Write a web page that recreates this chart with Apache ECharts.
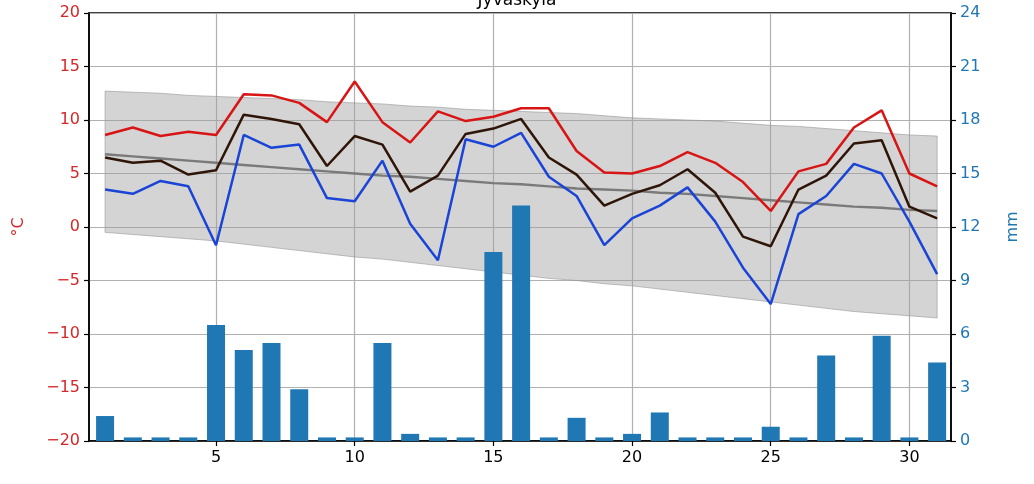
<!DOCTYPE html>
<html>
<head>
<meta charset="utf-8">
<script src="https://cdn.jsdelivr.net/npm/echarts@6/dist/echarts.min.js"></script>
<style>html,body{margin:0;padding:0;background:#fff}#c{width:1034px;height:484px}</style>
</head>
<body>
<div id="c"></div>
<script>
const titleText = 'Jyväskylä';
const days = [1,2,3,4,5,6,7,8,9,10,11,12,13,14,15,16,17,18,19,20,21,22,23,24,25,26,27,28,29,30,31];
const tMax = [8.6,9.3,8.5,8.9,8.6,12.4,12.3,11.6,9.8,13.6,9.8,7.9,10.8,9.9,10.3,11.1,11.1,7.1,5.1,5.0,5.7,7.0,6.0,4.2,1.5,5.2,5.9,9.3,10.9,5.0,3.8];
const tMean = [6.5,6.0,6.2,4.9,5.3,10.5,10.1,9.6,5.7,8.5,7.7,3.3,4.8,8.7,9.2,10.1,6.5,4.9,2.0,3.1,3.9,5.4,3.2,-0.9,-1.8,3.5,4.8,7.8,8.1,1.9,0.8];
const tMin = [3.5,3.1,4.3,3.8,-1.7,8.6,7.4,7.7,2.7,2.4,6.2,0.3,-3.1,8.2,7.5,8.8,4.7,2.9,-1.7,0.8,2.0,3.7,0.5,-3.8,-7.2,1.2,2.9,5.9,5.0,0.5,-4.4];
const climMean = [6.8,6.6,6.4,6.2,6.0,5.8,5.6,5.4,5.2,5.0,4.8,4.7,4.5,4.3,4.1,4.0,3.8,3.6,3.5,3.4,3.2,3.1,2.9,2.7,2.5,2.3,2.1,1.9,1.8,1.6,1.5];
const climUpper = [12.7,12.6,12.5,12.3,12.2,12.1,12.0,11.9,11.7,11.6,11.5,11.3,11.2,11.0,10.9,10.8,10.7,10.6,10.4,10.2,10.1,10.0,9.9,9.7,9.5,9.4,9.2,9.0,8.8,8.6,8.5];
const climLower = [-0.5,-0.7,-0.9,-1.1,-1.3,-1.6,-1.9,-2.2,-2.5,-2.8,-3.0,-3.3,-3.6,-3.9,-4.2,-4.5,-4.8,-5.0,-5.3,-5.5,-5.8,-6.1,-6.4,-6.7,-7.0,-7.3,-7.6,-7.9,-8.1,-8.3,-8.5];
const precip = [1.4,0.2,0.2,0.2,6.5,5.1,5.5,2.9,0.2,0.2,5.5,0.4,0.2,0.2,10.6,13.2,0.2,1.3,0.2,0.4,1.6,0.2,0.2,0.2,0.8,0.2,4.8,0.2,5.9,0.2,4.4];
const xTicks = [5,10,15,20,25,30];

const pairs = arr => days.map((d,i)=>[d, arr[i]]);
const FONT = 'DejaVu Sans';

const chart = echarts.init(document.getElementById('c'), null, {renderer:'canvas'});
chart.setOption({
  animation: false,
  backgroundColor: '#fff',
  title: {text: titleText, left: 'center', top: -13, textStyle:{fontFamily: FONT, fontSize: 17, fontWeight: 'normal', color:'#000'}},
  grid: {left: 89, right: 83, top: 13, bottom: 43, show: true, borderColor: '#000', borderWidth: 1.5, backgroundColor: 'transparent'},
  xAxis: {
    type: 'value', min: 0.42, max: 31.5,
    axisLine: {show: true, onZero: false, lineStyle: {color: '#000', width: 1.5}},
    axisTick: {show: true, length: 5, lineStyle:{color:'#000', width:1.2}, customValues: xTicks},
    axisLabel: {customValues: xTicks, color:'#000', fontFamily: FONT, fontSize: 16, margin: 9},
    splitLine: {show: false}
  },
  yAxis: [
    {
      type: 'value', min: -20, max: 20, interval: 5, position: 'left',
      name: '°C', nameLocation: 'middle', nameRotate: 90, nameGap: 62,
      nameTextStyle: {color: '#d62728', fontFamily: FONT, fontSize: 16},
      axisLine: {show: true, onZero: false, lineStyle: {color: '#000', width: 1.5}},
      axisTick: {show: true, length: 5, lineStyle:{color:'#000', width:1.2}},
      axisLabel: {color: '#d62728', fontFamily: FONT, fontSize: 16, margin: 9, formatter: v => (v<0? '\u2212'+Math.abs(v) : ''+v)},
      splitLine: {show: true, lineStyle: {color: '#b0b0b0', width: 1.2}}
    },
    {
      type: 'value', min: 0, max: 24, interval: 3, position: 'right',
      name: 'mm', nameLocation: 'middle', nameRotate: 90, nameGap: 54,
      nameTextStyle: {color: '#1f77b4', fontFamily: FONT, fontSize: 16},
      axisLine: {show: true, onZero: false, lineStyle: {color: '#000', width: 1.5}},
      axisTick: {show: true, length: 5, lineStyle:{color:'#000', width:1.2}},
      axisLabel: {color: '#1f77b4', fontFamily: FONT, fontSize: 16, margin: 9},
      splitLine: {show: false}
    }
  ],
  series: [
    {
      type: 'custom', name: 'climBand', silent: true, z: 1,
      data: days.map((d,i)=>[d, climLower[i], climUpper[i]]),
      encode: {x: 0, y: [1,2]},
      renderItem: function(params, api) {
        if (params.dataIndex !== 0) return null;
        const top = days.map((d,i)=>api.coord([d, climUpper[i]]));
        const bot = days.map((d,i)=>api.coord([d, climLower[i]])).reverse();
        return {
          type: 'polygon',
          shape: {points: top.concat(bot)},
          style: {fill: 'rgba(160,160,160,0.45)', stroke: 'rgba(150,150,150,0.6)', lineWidth: 1}
        };
      }
    },
    {
      type: 'bar', name: 'precip', yAxisIndex: 1, data: pairs(precip), barWidth: 18, z: 3,
      itemStyle: {color: '#1f77b4'},
      markLine: {
        silent: true, symbol: 'none', label: {show: false}, z: 0,
        lineStyle: {color: '#b0b0b0', width: 1.2, type: 'solid'},
        data: xTicks.map(v => ({xAxis: v}))
      }
    },
    {type: 'line', name: 'climMean', data: pairs(climMean), symbol: 'none', z: 4, lineStyle: {color: '#7a7a7a', width: 2.4}},
    {type: 'line', name: 'tmax', data: pairs(tMax), symbol: 'none', z: 5, lineStyle: {color: '#d81414', width: 2.5}},
    {type: 'line', name: 'tmean', data: pairs(tMean), symbol: 'none', z: 5, lineStyle: {color: '#2e1508', width: 2.5}},
    {type: 'line', name: 'tmin', data: pairs(tMin), symbol: 'none', z: 5, lineStyle: {color: '#1a44d6', width: 2.5}}
  ]
});
</script>
</body>
</html>
